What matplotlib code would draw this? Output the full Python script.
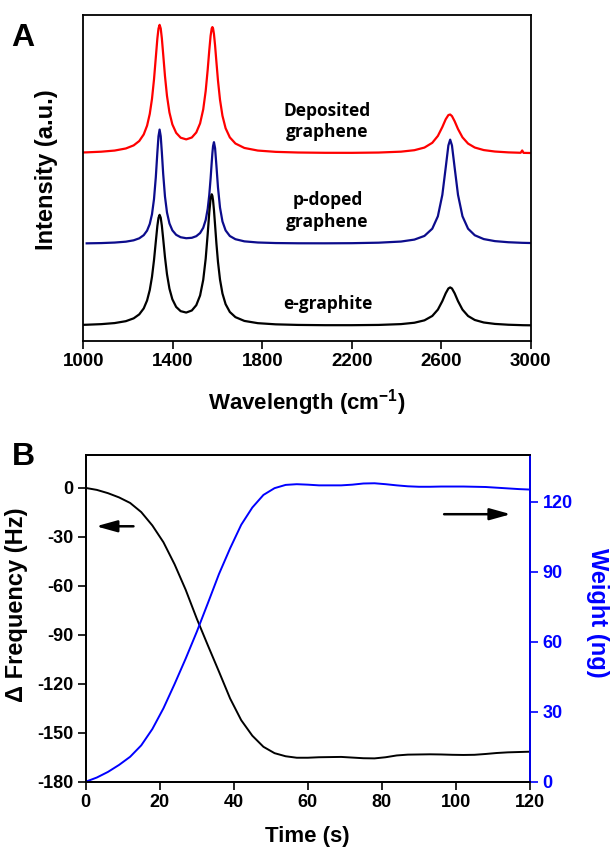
import numpy as np
import matplotlib.pyplot as plt

# Raman spectra (panel A), intensity in arbitrary units, curves already offset
wavenumber = [1000, 1015, 1080, 1140, 1190, 1225, 1250, 1270, 1285, 1297, 1307, 1316, 1324,
              1331, 1336, 1341, 1346, 1351, 1357, 1365, 1374, 1385, 1398, 1415, 1435, 1460,
              1485, 1505, 1522, 1536, 1547, 1556, 1563, 1569, 1574, 1577, 1580, 1584, 1589,
              1595, 1602, 1611, 1622, 1636, 1655, 1680, 1720, 1780, 1860, 1960, 2080, 2200,
              2320, 2420, 2480, 2525, 2560, 2585, 2605, 2620, 2632, 2640, 2648, 2660, 2675,
              2695, 2720, 2750, 2790, 2840, 2900, 2955, 2962, 2968, 3000]

deposited = [57.79, 57.82, 58.02, 58.37, 59.01, 59.96, 61.30, 63.32, 66.02, 69.62, 74.26, 80.24,
             86.92, 92.78, 95.82, 96.97, 95.86, 92.87, 87.95, 81.25, 75.16, 70.06, 66.40, 63.81,
             62.32, 61.80, 62.38, 63.93, 66.71, 71.01, 76.66, 83.22, 89.11, 93.61, 95.89, 96.28,
             95.86, 94.14, 90.63, 85.55, 79.85, 73.97, 69.05, 65.23, 62.41, 60.53, 59.17, 58.37,
             57.97, 57.77, 57.68, 57.67, 57.76, 58.03, 58.48, 59.29, 60.75, 62.86, 65.60, 67.97,
             69.27, 69.44, 68.95, 67.37, 64.98, 62.43, 60.51, 59.30, 58.52, 58.07, 57.81, 57.69,
             58.40, 57.66, 57.62]

pdoped = [np.nan, 29.88, 29.96, 30.12, 30.39, 30.81, 31.42, 32.39, 33.79, 35.83, 38.83, 43.49,
          50.14, 57.81, 62.75, 64.81, 62.77, 57.85, 51.22, 44.26, 39.35, 35.99, 33.88, 32.50,
          31.76, 31.45, 31.58, 32.08, 33.04, 34.65, 37.04, 40.47, 44.72, 49.81, 54.76, 57.57,
          59.75, 60.94, 59.11, 53.72, 47.03, 40.87, 36.60, 33.86, 32.13, 31.15, 30.49, 30.14,
          29.97, 29.90, 29.89, 29.93, 30.08, 30.43, 31.03, 32.16, 34.38, 38.19, 44.78, 53.12,
          59.94, 61.72, 59.94, 53.12, 44.78, 38.19, 34.37, 32.36, 31.19, 30.56, 30.22, 30.06,
          30.04, 30.03, 29.98]

egraphite = [4.86, 4.89, 5.07, 5.40, 5.98, 6.85, 8.07, 9.90, 12.34, 15.54, 19.61, 24.76,
             30.39, 35.23, 37.70, 38.63, 37.74, 35.32, 31.27, 25.64, 20.41, 15.96, 12.71, 10.36,
             9.06, 8.63, 9.26, 10.89, 13.87, 18.66, 25.15, 32.76, 39.32, 43.65, 44.95, 44.45,
             43.04, 40.09, 35.48, 29.82, 24.17, 18.77, 14.47, 11.21, 8.80, 7.22, 6.06, 5.37,
             5.01, 4.83, 4.75, 4.75, 4.83, 5.08, 5.50, 6.24, 7.58, 9.53, 12.14, 14.54,
             16.02, 16.35, 16.02, 14.54, 12.14, 9.53, 7.57, 6.35, 5.58, 5.14, 4.89, 4.77,
             4.75, 4.74, 4.71]

# QCM data (panel B)
time_s = [0, 3, 6, 9, 12, 15, 18, 21, 24, 27, 30, 33, 36, 39, 42, 45, 48, 51, 54, 57, 60,
          63, 66, 69, 72, 75, 78, 81, 84, 87, 90, 93, 96, 99, 102, 105, 108, 111, 114, 117, 120]

freq_shift = [0, -1.2, -3.2, -5.8, -9.2, -14.8, -23.0, -33.3, -46.8, -62.4, -80.1, -96.5,
              -112.6, -129.0, -142.3, -151.8, -158.6, -162.5, -164.4, -165.3, -165.3, -165.0,
              -164.9, -164.8, -165.2, -165.6, -165.7, -165.0, -163.9, -163.4, -163.3, -163.2,
              -163.3, -163.5, -163.6, -163.5, -163.0, -162.4, -162.0, -161.8, -161.6]

weight_ng = [0, 1.8, 4.2, 7.2, 10.7, 15.6, 22.6, 31.5, 41.9, 52.8, 64.3, 76.6, 89.1, 100.1,
             110.2, 117.6, 123.0, 125.9, 127.3, 127.6, 127.4, 127.1, 127.1, 127.1, 127.4,
             127.9, 128.0, 127.6, 127.1, 126.7, 126.5, 126.5, 126.6, 126.6, 126.6, 126.5,
             126.4, 126.1, 125.8, 125.5, 125.3]

LABEL_FONT = ['Open Sans', 'DejaVu Sans']
BLUE = '#0000ff'


def panel_a(fig):
    ax = fig.add_axes([0.1366, 0.5997, 0.7334, 0.3827])
    ax.plot(wavenumber, deposited, color='#ff0000', lw=1.6)
    ax.plot(wavenumber, pdoped, color='#0c0c8c', lw=1.6)
    ax.plot(wavenumber, egraphite, color='black', lw=1.6)
    ax.set_xlim(1000, 3000)
    ax.set_ylim(0, 100)
    ax.set_xticks([1000, 1400, 1800, 2200, 2600, 3000])
    ax.set_yticks([])
    ax.tick_params(axis='x', direction='out', length=6, width=1.2, labelsize=13.5, pad=3)
    for sp in ax.spines.values():
        sp.set_linewidth(1.3)

    for txt, y in [("Deposited", 70.5), ("graphene", 64.2), ("p-doped", 43.2),
                   ("graphene", 36.5), ("e-graphite", 11.3)]:
        ax.text(2092, y, txt, ha='center', va='center', fontsize=12.5,
                fontweight='bold', family=LABEL_FONT)

    fig.text(307 / 610, 1 - 403 / 851, r"Wavelength (cm$^{-1}$)", ha='center',
             va='center', fontsize=16, fontweight='bold')
    fig.text(47 / 610, 1 - 170 / 851, "Intensity (a.u.)", rotation=90, ha='center',
             va='center', fontsize=17, fontweight='bold')
    fig.text(23 / 610, 1 - 38 / 851, "A", ha='center', va='center', fontsize=23,
             fontweight='bold')


def panel_b(fig):
    ax = fig.add_axes([0.1405, 0.0814, 0.7284, 0.3836])
    ax.plot(time_s, freq_shift, color='black', lw=1.4)
    ax.set_xlim(0, 120)
    ax.set_ylim(-180, 20)
    ax.set_xticks(range(0, 121, 20))
    ax.set_yticks(range(-180, 1, 30))
    ax.tick_params(direction='out', length=6, width=1.2, labelsize=13, pad=3)
    for sp in ax.spines.values():
        sp.set_linewidth(1.3)

    ax2 = ax.twinx()
    ax2.plot(time_s, weight_ng, color=BLUE, lw=1.4)
    ax2.set_ylim(0, 140)
    ax2.set_yticks(range(0, 121, 30))
    ax2.tick_params(axis='y', direction='out', length=6, width=1.2, labelsize=13, pad=3,
                    colors=BLUE)
    for sp in ax2.spines.values():
        sp.set_linewidth(1.3)
    ax2.spines['right'].set_color(BLUE)

    arrow = dict(arrowstyle='-|>,head_length=0.9,head_width=0.25', lw=1.8,
                 color='black', mutation_scale=14, shrinkA=0, shrinkB=0)
    ax.annotate("", xy=(2.8, -23.5), xytext=(12.9, -23.5), arrowprops=arrow)
    ax.annotate("", xy=(114.8, -16.1), xytext=(96.8, -16.1), arrowprops=arrow)

    fig.text(307.8 / 610, 1 - 836.7 / 851, "Time (s)", ha='center', va='center',
             fontsize=16, fontweight='bold')
    fig.text(17 / 610, 1 - 605 / 851, "\u0394 Frequency (Hz)", rotation=90, ha='center',
             va='center', fontsize=17, fontweight='bold')
    fig.text(598 / 610, 1 - 612.5 / 851, "Weight (ng)", rotation=270, ha='center',
             va='center', fontsize=17, fontweight='bold', color=BLUE)
    fig.text(23 / 610, 1 - 457 / 851, "B", ha='center', va='center', fontsize=23,
             fontweight='bold')


def main():
    plt.rcParams['font.family'] = ['Liberation Sans', 'DejaVu Sans']
    plt.rcParams['font.weight'] = 'bold'
    plt.rcParams['axes.unicode_minus'] = False
    plt.rcParams['mathtext.fontset'] = 'custom'
    plt.rcParams['mathtext.rm'] = 'Liberation Sans'
    plt.rcParams['mathtext.bf'] = 'Liberation Sans:bold'

    fig = plt.figure(figsize=(6.1, 8.51), dpi=100)
    panel_a(fig)
    panel_b(fig)
    fig.savefig("out.png", dpi=100)


if __name__ == "__main__":
    main()
